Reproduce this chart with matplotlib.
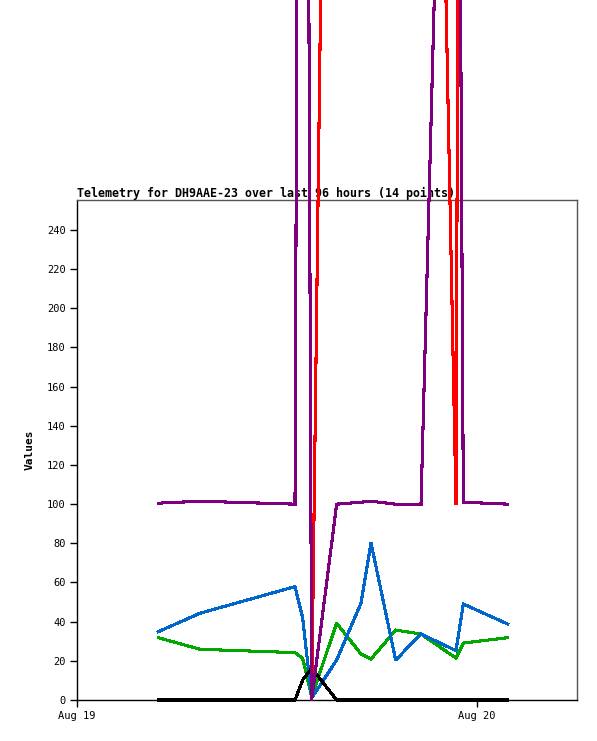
import matplotlib
matplotlib.use("Agg")
import matplotlib.pyplot as plt

# hours since Aug 19 00:00
hours = [4.88, 7.38, 13.08, 13.54, 14.08, 15.58, 17.04, 17.64, 19.12, 20.64, 22.74, 23.18, 25.84]

green = [31.8, 25.9, 24.2, 21.3, 1.7, 39.2, 23.5, 20.9, 35.7, 33.7, 21.4, 29.1, 31.8]
blue = [34.9, 44.3, 57.9, 41.9, 1.0, 20.4, 49.5, 80.2, 20.4, 33.7, 25.2, 49.0, 38.8]
black = [0, 0, 0, 10.2, 16.2, 0, 0, 0, 0, 0, 0, 0, 0]
red = [100.5, 101.5, 100, 1150, 0, 1000, 1000, 1000, 1000, 1000, 100, 1200, 1000]
purple = [100.5, 101.5, 100, 1150, 0, 100, 101, 101.5, 100, 100, 780, 101, 100]

tick_hours = [0, 24]
tick_labels = ["Aug 19", "Aug 20"]

fig = plt.figure(figsize=(5.97, 7.41), dpi=100)
ax = fig.add_axes([77 / 597, 41 / 741, 500 / 597, 500 / 741])

series = [(green, "#00a800"), (blue, "#0066cc"), (black, "#000000"),
          (red, "#ff0000"), (purple, "#7f007f")]
for vals, col in series:
    ax.plot(hours, vals, color=col, lw=1.5, clip_on=False, zorder=4,
            antialiased=False, solid_joinstyle="miter")

ax.set_xlim(0, 30)
ax.set_ylim(0, 255.3)
ax.set_yticks(range(0, 241, 20))
ax.set_xticks(tick_hours)
ax.set_xticklabels(tick_labels)

mono = "DejaVu Sans Mono"
ax.tick_params(direction="out", length=5, width=1, labelsize=7.5, pad=3)
for lab in ax.get_xticklabels() + ax.get_yticklabels():
    lab.set_family(mono)

ax.spines["top"].set_color("#555555")
ax.spines["right"].set_color("#555555")
for s in ax.spines.values():
    s.set_linewidth(1)

ax.set_ylabel("Values", family=mono, fontweight="bold", fontsize=8, labelpad=9)
ax.set_title("Telemetry for DH9AAE-23 over last 96 hours (14 points)",
             loc="left", family=mono, fontweight="bold", fontsize=8.4, pad=2)

fig.savefig("out.png", dpi=100)
